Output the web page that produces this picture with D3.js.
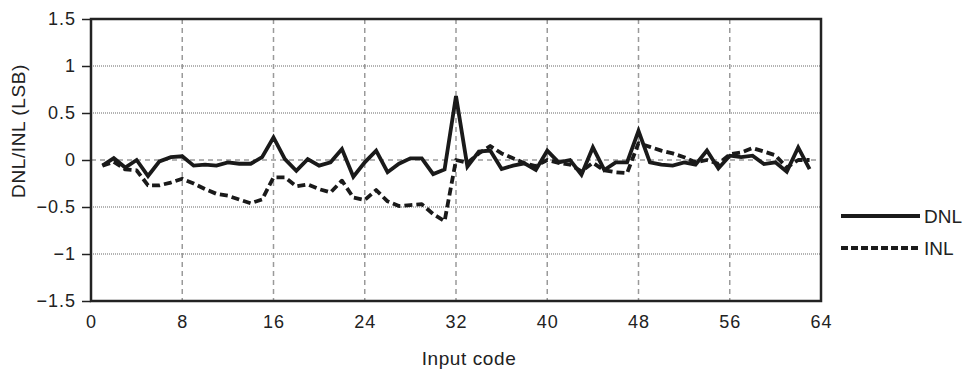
<!DOCTYPE html>
<html><head><meta charset="utf-8">
<script src="https://cdn.jsdelivr.net/npm/d3@7/dist/d3.min.js"></script>
<style>body{margin:0;background:#fff;} text{font-family:"Liberation Sans",Arial,sans-serif;}</style>
</head><body><svg id="c" width="969" height="371"></svg>
<script>
const codes = d3.range(1, 64);
const dnl = [-0.06,0.02,-0.08,0.0,-0.17,-0.015,0.03,0.04,-0.06,-0.05,-0.06,-0.025,-0.04,-0.04,0.03,0.24,
  0.01,-0.115,0.01,-0.06,-0.025,0.117,-0.178,-0.025,0.1,-0.13,-0.04,0.018,0.018,-0.15,-0.1,0.68,
  -0.07,0.09,0.1,-0.096,-0.06,-0.035,-0.106,0.1,-0.025,0.0,-0.156,0.134,-0.106,-0.025,-0.025,0.31,
  -0.025,-0.05,-0.06,-0.025,-0.05,0.1,-0.09,0.046,0.03,0.046,-0.043,-0.025,-0.124,0.134,-0.096];
const inl = [-0.06,-0.02,-0.1,-0.11,-0.27,-0.27,-0.24,-0.2,-0.25,-0.31,-0.36,-0.38,-0.42,-0.46,-0.42,-0.185,
  -0.185,-0.28,-0.26,-0.31,-0.345,-0.22,-0.4,-0.425,-0.32,-0.44,-0.49,-0.48,-0.47,-0.575,-0.65,0.0,
  -0.03,0.07,0.149,0.07,0.018,-0.035,-0.064,0.0,-0.03,-0.05,-0.12,-0.03,-0.11,-0.13,-0.14,0.18,
  0.14,0.1,0.07,0.03,-0.025,0.0,-0.04,0.06,0.08,0.127,0.09,0.05,-0.08,0.0,0.0];
const xTicks = [0,8,16,24,32,40,48,56,64];
const yTicks = [1.5,1,0.5,0,-0.5,-1,-1.5];
const seriesNames = ["DNL","INL"];

const svg = d3.select("#c");
const L=91, R=821, T=19, B=301;
const x = d3.scaleLinear().domain([0,64]).range([L,R]);
const y = d3.scaleLinear().domain([-1.5,1.5]).range([B,T]);
const fmt = v => (v<0 ? "\u2212"+Math.abs(v) : String(v));

svg.append("g").selectAll("line").data(yTicks.filter(v=>v!==0 && Math.abs(v)!==1.5)).join("line")
  .attr("x1",L).attr("x2",R).attr("y1",d=>y(d)).attr("y2",d=>y(d))
  .attr("stroke","#9a9a9a").attr("stroke-width",1.5).attr("stroke-dasharray","1,1");
svg.append("line").attr("x1",L).attr("x2",R).attr("y1",y(0)).attr("y2",y(0))
  .attr("stroke","#9a9a9a").attr("stroke-width",1.5).attr("stroke-dasharray","5,4");
svg.append("g").selectAll("line").data(xTicks.filter(v=>v>0&&v<64)).join("line")
  .attr("x1",d=>x(d)).attr("x2",d=>x(d)).attr("y1",T).attr("y2",B)
  .attr("stroke","#9a9a9a").attr("stroke-width",1.5).attr("stroke-dasharray","5,4");

const yAxis = d3.axisLeft(y).tickValues(yTicks).tickFormat(fmt).tickSize(9).tickPadding(6);
const gy = svg.append("g").attr("transform",`translate(${L},0)`).call(yAxis);
gy.select(".domain").remove();
gy.selectAll("line").attr("stroke","#222").attr("stroke-width",1.5);
gy.selectAll("text").attr("font-size",18).attr("letter-spacing",1).attr("fill","#222");

const xAxis = d3.axisBottom(x).tickValues(xTicks).tickSize(0).tickPadding(14);
const gx = svg.append("g").attr("transform",`translate(0,${B})`).call(xAxis);
gx.select(".domain").remove();
gx.selectAll("text").attr("font-size",18).attr("letter-spacing",1).attr("fill","#222");

svg.append("rect").attr("x",L).attr("y",T).attr("width",R-L).attr("height",B-T)
  .attr("fill","none").attr("stroke","#222").attr("stroke-width",2.5);

const line = d3.line().x((d,i)=>x(codes[i])).y(d=>y(d));
svg.append("path").datum(inl).attr("d",line).attr("fill","none").attr("stroke","#1a1a1a")
  .attr("stroke-width",3.8).attr("stroke-dasharray","8,4").attr("stroke-linejoin","round");
svg.append("path").datum(dnl).attr("d",line).attr("fill","none").attr("stroke","#1a1a1a")
  .attr("stroke-width",3.8).attr("stroke-linejoin","miter");

svg.append("text").attr("x",469).attr("y",365).attr("text-anchor","middle").attr("font-size",19).attr("letter-spacing",0.6).attr("fill","#222").text("Input code");
svg.append("text").attr("transform","translate(25,131) rotate(-90)").attr("text-anchor","middle").attr("font-size",19).attr("letter-spacing",0.6).attr("fill","#222").text("DNL/INL (LSB)");

const lg = svg.append("g");
const ly = [216,248];
seriesNames.forEach((n,i)=>{
  lg.append("line").attr("x1",841).attr("x2",920).attr("y1",ly[i]).attr("y2",ly[i])
    .attr("stroke","#1a1a1a").attr("stroke-width",3.8).attr("stroke-dasharray",i? "7,3":null);
  lg.append("text").attr("x",924).attr("y",ly[i]+7).attr("font-size",19).attr("fill","#222").text(n);
});
</script></body></html>
